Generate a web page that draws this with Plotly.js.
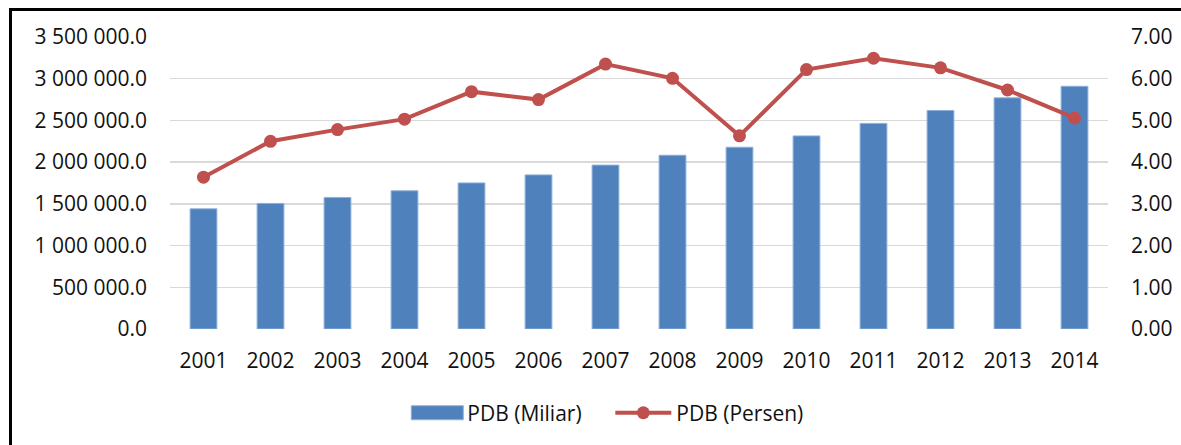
<!DOCTYPE html>
<html>
<head>
<meta charset="utf-8">
<script src="https://cdn.plot.ly/plotly-3.0.1.min.js"></script>
<style>
  html, body { margin: 0; padding: 0; background: #fff; }
  #wrap { position: relative; width: 1181px; height: 445px; overflow: hidden; }
  #chart { position: absolute; left: 0; top: 0; width: 1181px; height: 445px; }
  #frame { position: absolute; left: 9px; top: 8px; width: 1200px; height: 500px;
           border-left: 3px solid #000; border-top: 3px solid #000; pointer-events: none; }
</style>
</head>
<body>
<div id="wrap">
  <div id="chart"></div>
  <div id="frame"></div>
</div>
<script>
const years = ['2001','2002','2003','2004','2005','2006','2007','2008','2009','2010','2011','2012','2013','2014'];
const pdbMiliar = [1440406, 1505216, 1577171, 1656517, 1750815, 1847127, 1964327, 2082456, 2178850, 2314459, 2464566, 2618932, 2770345, 2909181];
const pdbPersen = [3.64, 4.50, 4.78, 5.03, 5.69, 5.50, 6.35, 6.01, 4.63, 6.22, 6.49, 6.26, 5.73, 5.06];

const leftTickVals = [0, 500000, 1000000, 1500000, 2000000, 2500000, 3000000, 3500000];
const leftTickText = ['0.0', '500 000.0', '1 000 000.0', '1 500 000.0', '2 000 000.0', '2 500 000.0', '3 000 000.0', '3 500 000.0'];
const rightTickVals = [0, 1, 2, 3, 4, 5, 6, 7];
const rightTickText = ['0.00', '1.00', '2.00', '3.00', '4.00', '5.00', '6.00', '7.00'];

const FONT = 'Open Sans, Noto Sans, sans-serif';
const FS = 21;

const traces = [
  {
    type: 'bar', name: 'PDB (Miliar)', x: years, y: pdbMiliar,
    marker: { color: '#4F81BD', line: { color: '#8FB0DA', width: 1 } },
    hoverinfo: 'skip'
  },
  {
    type: 'scatter', mode: 'lines+markers', name: 'PDB (Persen)', x: years, y: pdbPersen,
    yaxis: 'y2',
    line: { color: '#C0504D', width: 4 },
    marker: { color: '#C0504D', size: 13 },
    hoverinfo: 'skip'
  }
];

const layout = {
  width: 1181, height: 445,
  margin: { l: 170, r: 73, t: 37, b: 116, autoexpand: false },
  paper_bgcolor: 'rgba(0,0,0,0)', plot_bgcolor: '#fff',
  font: { family: FONT, size: FS, color: '#111' },
  showlegend: true,
  bargap: 0.6,
  xaxis: {
    type: 'category', range: [-0.5, years.length - 0.5],
    showgrid: false, zeroline: false, showline: false, automargin: false,
    ticks: '', ticklabelstandoff: 17,
    tickfont: { family: FONT, size: FS, color: '#111' }
  },
  yaxis: {
    range: [0, 3500000], tickvals: leftTickVals, ticktext: leftTickText, automargin: false,
    showgrid: true, gridcolor: '#D9D9D9', gridwidth: 1.5,
    zeroline: false, showline: false, ticks: '', ticklabelstandoff: 22,
    tickfont: { family: FONT, size: FS, color: '#111' }
  },
  yaxis2: {
    overlaying: 'y', side: 'right', range: [0, 7], automargin: false,
    tickvals: rightTickVals, ticktext: rightTickText,
    showgrid: false, zeroline: false, showline: false, ticks: '', ticklabelstandoff: 22,
    tickfont: { family: FONT, size: FS, color: '#111' }
  },
  legend: {
    orientation: 'h', x: 0.4694, xanchor: 'center', y: -0.288, yanchor: 'middle',
    font: { family: FONT, size: FS, color: '#111' },
    itemwidth: 56, entrywidth: 138, bgcolor: 'rgba(0,0,0,0)', traceorder: 'normal'
  }
};

Plotly.newPlot('chart', traces, layout, { displayModeBar: false, staticPlot: true }).then(function (gd) {
  // widen the bar legend swatch to match the reference's rectangle swatch
  const paths = gd.querySelectorAll('.legend .legendpoints path.legendbar, .legend .legendpoints path.legendundefined');
  paths.forEach(function (p) { p.setAttribute('d', 'M29,7H-23V-7H29Z'); });
});
</script>
</body>
</html>
